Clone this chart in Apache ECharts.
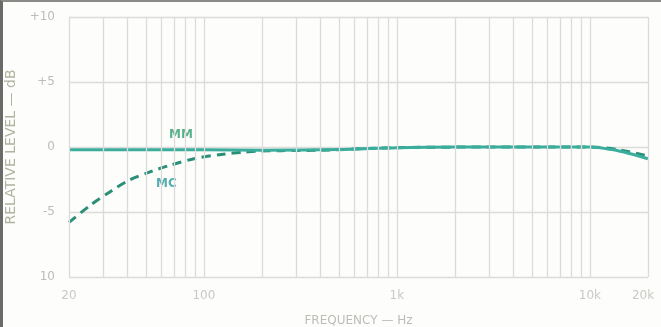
<!DOCTYPE html>
<html><head><meta charset="utf-8">
<script src="https://cdn.jsdelivr.net/npm/echarts@6/dist/echarts.min.js"></script>
<style>
html,body{margin:0;padding:0;background:#fdfdfb;}
#c{width:661px;height:327px;}
#frame{position:absolute;left:0;top:0;width:661px;height:327px;box-sizing:border-box;border-left:3px solid #6a6a66;border-top:2px solid #8a8a86;pointer-events:none;}
</style></head>
<body><div id="c"></div><div id="frame"></div>
<script>
// Data
const gridFreqs = [20,30,40,50,60,70,80,90,100,200,300,400,500,600,700,800,900,1000,2000,3000,4000,5000,6000,7000,8000,9000,10000,20000];
const xTickFreqs = [20,100,1000,10000,20000];
const xTickLabels = ["20","100","1k","10k","20k"];
const yTickValues = [10,5,0,-5,-10];
const yTickLabels = ["+10","+5","0","-5","10"];
const mmFreq = [20,30,50,100,200,500,1000,2000,5000,10000,13000,16000,20000];
const mmLevel = [-0.22,-0.22,-0.22,-0.22,-0.25,-0.2,-0.05,0,0,0,-0.2,-0.5,-0.9];
const mcFreq = [20,25.7,33,41,53,67,92,126,160,190,250,400,1000,5000,10000,14000,20000];
const mcLevel = [-5.8,-4.5,-3.4,-2.55,-1.9,-1.4,-0.85,-0.55,-0.4,-0.32,-0.28,-0.25,-0.05,0,0,-0.2,-0.7];

const chart = echarts.init(document.getElementById('c'));
const txt = '#bcbcb8';
const yLabelMap = {};
yTickValues.forEach((v,i)=>yLabelMap[v]=yTickLabels[i]);
chart.setOption({
  animation:false,
  backgroundColor:'#fdfdfb',
  grid:{left:69,right:13,top:17,bottom:50,outerBoundsMode:'none',containLabel:false},
  xAxis:{type:'log',logBase:10,min:20,max:20000,
    axisLine:{show:false},axisTick:{show:false},axisLabel:{show:false},splitLine:{show:false},
    name:'FREQUENCY — Hz',nameLocation:'middle',nameGap:38,
    nameTextStyle:{color:txt,fontFamily:'DejaVu Sans',fontSize:12}},
  yAxis:{type:'value',min:-10,max:10,interval:5,
    axisLine:{show:false},axisTick:{show:false},
    axisLabel:{color:txt,fontFamily:'DejaVu Sans',fontSize:12,margin:14,formatter:v=>yLabelMap[v]},
    splitLine:{lineStyle:{color:'#dcdcda',width:1.3}},
    name:'RELATIVE LEVEL — dB',nameLocation:'middle',nameGap:46,
    nameTextStyle:{color:'#b0b3a0',fontFamily:'DejaVu Sans',fontSize:14}},
  series:[
    {type:'line',data:[],silent:true,
      markLine:{symbol:'none',silent:true,label:{show:false},
        lineStyle:{color:'#dcdada',width:1.3,type:'solid'},
        data:gridFreqs.map(f=>({xAxis:f}))}},
    {type:'scatter',symbolSize:0,silent:true,
      data:xTickFreqs.map((f,i)=>({value:[f,-10],label:{show:true,formatter:xTickLabels[i],position:'bottom',distance:13,
        offset:[i===4?-5:0,0],color:txt,fontFamily:'DejaVu Sans',fontSize:12}}))},
    {name:'MC',type:'line',smooth:0.3,showSymbol:false,
      data:mcFreq.map((f,i)=>[f,mcLevel[i]]),
      lineStyle:{color:'#2b8f78',width:3,type:[9,6]},z:3},
    {name:'MM',type:'line',smooth:0.3,showSymbol:false,
      data:mmFreq.map((f,i)=>[f,mmLevel[i]]),
      lineStyle:{color:'#3aad9c',width:3},z:4},
    {type:'scatter',symbolSize:0,silent:true,
      data:[{value:[76,0.9],label:{show:true,formatter:'MM',position:'inside',color:'#2f9e70',fontFamily:'DejaVu Sans',fontWeight:'bold',fontSize:12}},
            {value:[64,-2.8],label:{show:true,formatter:'MC',position:'inside',color:'#2a9a9c',fontFamily:'DejaVu Sans',fontWeight:'bold',fontSize:12}}]}
  ]
});
</script></body></html>
